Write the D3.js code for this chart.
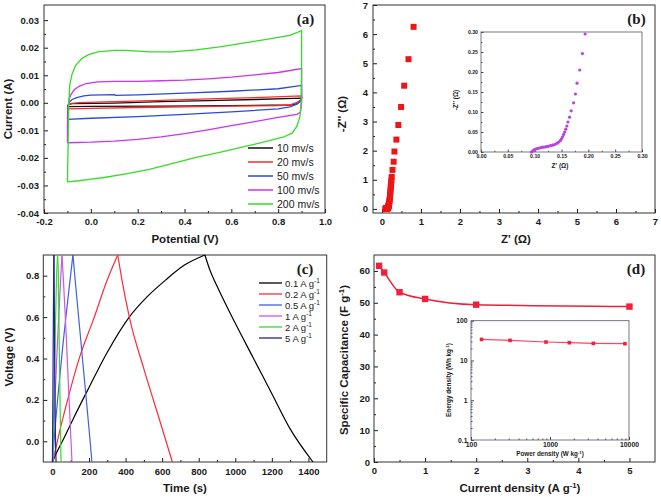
<!DOCTYPE html>
<html><head><meta charset="utf-8">
<script src="https://cdn.jsdelivr.net/npm/d3@7"></script>
<style>body{margin:0;background:#fff}svg{display:block}</style>
</head><body>
<svg id="c" width="661" height="497"></svg>
<script>
// ---------------- DATA ----------------
// (a) CV loops: [potential V, current A]
const cvLabels = ["10 mv/s","20 mv/s","50 mv/s","100 mv/s","200 mv/s"];
const cv10 = [[-0.1,-0.0014],[-0.095,-0.0006],[-0.08,-0.0003],[0.1,-0.0001],[0.3,0.0004],[0.5,0.0008],[0.7,0.0012],[0.9,0.0017],
  [0.895,0.0006],[0.88,-0.0004],[0.85,-0.0008],[0.6,-0.001],[0.3,-0.0012],[0.0,-0.0013],[-0.1,-0.0014]];
const cv20 = [[-0.1,-0.0022],[-0.095,-0.0008],[-0.08,-0.0002],[-0.05,0.0001],[0.1,0.0004],[0.3,0.0009],[0.5,0.0014],[0.7,0.0019],[0.9,0.0025],
  [0.9,0.0012],[0.88,0.0002],[0.85,-0.0008],[0.8,-0.001],[0.6,-0.0012],[0.4,-0.0015],[0.2,-0.0017],[0.0,-0.002],[-0.1,-0.0022]];
const cv50 = [[-0.1,-0.006],[-0.098,-0.002],[-0.094,0.0],[-0.08,0.0012],[-0.06,0.0019],[-0.03,0.0025],[0.0,0.0028],[0.1,0.003],[0.105,0.0027],[0.2,0.0029],[0.4,0.0035],[0.6,0.0042],[0.8,0.0051],[0.9,0.0063],
  [0.9,0.002],[0.893,0.0005],[0.88,-0.0005],[0.85,-0.0015],[0.8,-0.0022],[0.6,-0.0033],[0.4,-0.0042],[0.2,-0.005],[0.0,-0.0056],[-0.1,-0.006]];
const cv100 = [[-0.1,-0.0145],[-0.1,-0.008],[-0.097,-0.002],[-0.094,0.001],[-0.085,0.003],[-0.07,0.0048],[-0.05,0.006],[-0.02,0.007],[0.03,0.0076],[0.1,0.0078],[0.2,0.0078],[0.3,0.008],[0.4,0.0082],[0.5,0.0087],[0.6,0.0093],[0.7,0.0101],[0.8,0.011],[0.9,0.0124],
  [0.9,0.0],[0.895,-0.0035],[0.88,-0.0042],[0.8,-0.0053],[0.7,-0.0068],[0.6,-0.0083],[0.5,-0.0098],[0.4,-0.0112],[0.3,-0.0124],[0.2,-0.0133],[0.1,-0.0139],[0.0,-0.0143],[-0.1,-0.0145]];
const cv200 = [[-0.1,-0.0287],[-0.098,-0.02],[-0.096,-0.01],[-0.094,0.0],[-0.09,0.0065],[-0.08,0.0105],[-0.065,0.0135],[-0.04,0.016],[-0.01,0.0175],[0.03,0.0185],[0.1,0.019],[0.15,0.019],[0.25,0.0185],[0.35,0.0185],[0.45,0.0192],[0.55,0.0203],[0.65,0.0217],[0.75,0.023],[0.85,0.0245],[0.9,0.0262],
  [0.9,0.024],[0.9,0.01],[0.898,0.0],[0.893,-0.005],[0.88,-0.0085],[0.86,-0.011],[0.82,-0.0125],[0.75,-0.014],[0.65,-0.016],[0.55,-0.018],[0.45,-0.0198],[0.35,-0.022],[0.25,-0.0242],[0.15,-0.0258],[0.05,-0.0272],[0.0,-0.0277],[-0.05,-0.0283],[-0.1,-0.0287]];

// (b) EIS: [Z', -Z'']
const eisInset = [[0.094,0.0],[0.096,0.002],[0.098,0.004],[0.1,0.006],[0.103,0.008],[0.106,0.009],[0.109,0.010],[0.112,0.011],[0.115,0.012],[0.118,0.0125],[0.121,0.013],[0.124,0.014],[0.127,0.015],[0.130,0.016],[0.133,0.017],[0.136,0.018],[0.139,0.020],[0.142,0.022],[0.145,0.025],[0.148,0.029],[0.150,0.033],[0.152,0.038],[0.154,0.044],[0.156,0.050],[0.158,0.057],[0.160,0.065],[0.162,0.075],[0.165,0.087],[0.168,0.103],[0.1725,0.123],[0.176,0.145],[0.179,0.172],[0.184,0.205],[0.189,0.246],[0.194,0.295]];
const eisHigh = [[0.2,0.35],[0.205,0.42],[0.21,0.5],[0.215,0.58],[0.22,0.66],[0.225,0.74],[0.23,0.82],[0.235,0.9],[0.24,0.98],[0.25,1.1],[0.27,1.34],[0.3,1.62],[0.32,1.97],[0.37,2.38],[0.42,2.88],[0.49,3.5],[0.57,4.23],[0.68,5.14],[0.81,6.25]];

// (c) GCD: time (s), voltage (V)
const gcdLabels = ["0.1","0.2","0.5","1","2","5"];
const gcd01T = [0,20,60,120,200,300,420,520,620,720,834,860,900,1000,1100,1200,1300,1425];
const gcd01V = [-0.1,-0.06,0.01,0.12,0.26,0.43,0.6,0.7,0.78,0.85,0.9,0.83,0.75,0.57,0.4,0.23,0.06,-0.1];
const gcd02T = [2,40,80,150,225,300,357,380,423,500,580,656];
const gcd02V = [-0.1,0.05,0.19,0.41,0.59,0.78,0.9,0.78,0.59,0.35,0.12,-0.1];
const gcd05T = [0,15,30,60,90,112,120,140,160,180,200,216];
const gcd05V = [-0.1,0.07,0.22,0.49,0.73,0.9,0.82,0.63,0.44,0.25,0.06,-0.1];
const gcd1T = [0,10,25,40,52,60,75,90,107];
const gcd1V = [-0.1,0.12,0.43,0.7,0.9,0.78,0.52,0.22,-0.1];
const gcd2T = [2,8,15,22,28,32,36,41,47];
const gcd2V = [-0.1,0.2,0.5,0.78,0.9,0.82,0.55,0.22,-0.1];
const gcd5T = [0,3,6,8,10,13,16,20];
const gcd5V = [-0.1,0.3,0.7,0.9,0.7,0.3,0.05,-0.1];

// (d) rate capability and Ragone inset
const rateCurrent = [0.1,0.2,0.5,1,2,5];
const rateCap = [61.6,59.5,53.3,51.2,49.4,48.8];
const ragPower = [136,312,889,1757,3536,8893];
const ragEnergy = [33.9,32,29.1,28,26.9,26.4];

// ---------------- DRAWING ----------------
const FONT = '"Liberation Sans", Arial, sans-serif';
const SERIF = '"Liberation Serif", "Times New Roman", serif';
const svg = d3.select("#c");
const INK = "#1a1a1a";

function rich(x, y, parts, fs, opt) {
  opt = opt || {};
  const t = svg.append("text").attr("x", x).attr("y", y)
    .attr("text-anchor", opt.anchor || "middle").attr("font-size", fs)
    .attr("font-weight", opt.weight || "bold").attr("font-family", opt.family || FONT).attr("fill", INK);
  if (opt.rot) t.attr("transform", `rotate(${opt.rot},${x},${y})`);
  let raised = false;
  parts.forEach(p => {
    if (Array.isArray(p)) { t.append("tspan").attr("dy", -fs * 0.38).attr("font-size", fs * 0.68).text(p[0]); raised = true; }
    else { const s = t.append("tspan").text(p); if (raised) { s.attr("dy", fs * 0.38); raised = false; } }
  });
  return t;
}

function frame(o) {
  const g = svg.append("g");
  const [xa, xb] = o.x.range(), [ya, yb] = o.y.range();
  const tl = o.tl || 4;
  g.append("g").attr("transform", `translate(0,${ya})`)
    .call(d3.axisBottom(o.x).tickValues(o.xMinor).tickFormat("").tickSizeInner(-tl / 2).tickSizeOuter(0));
  g.append("g").attr("transform", `translate(0,${ya})`)
    .call(d3.axisBottom(o.x).tickValues(o.xMajor).tickFormat(o.xFmt).tickSizeInner(-tl).tickSizeOuter(0).tickPadding(o.xPad));
  g.append("g").attr("transform", `translate(${xa},0)`)
    .call(d3.axisLeft(o.y).tickValues(o.yMinor).tickFormat("").tickSizeInner(-tl / 2).tickSizeOuter(0));
  g.append("g").attr("transform", `translate(${xa},0)`)
    .call(d3.axisLeft(o.y).tickValues(o.yMajor).tickFormat(o.yFmt).tickSizeInner(-tl).tickSizeOuter(0).tickPadding(o.yPad));
  g.selectAll(".domain").remove();
  g.selectAll("line").attr("stroke", INK).attr("stroke-width", o.sw || 1);
  g.selectAll("text").attr("font-family", FONT).attr("font-weight", "bold").attr("font-size", o.fs).attr("fill", INK);
  g.append("rect").attr("x", xa).attr("y", yb).attr("width", xb - xa).attr("height", ya - yb)
    .attr("fill", "none").attr("stroke", o.border || "#333").attr("stroke-width", o.sw || 1);
  return g;
}

// ----- Panel (a) -----
const xA = d3.scaleLinear().domain([-0.2, 1.0]).range([44, 325]);
const yA = d3.scaleLinear().domain([-0.04, 0.0355]).range([213, 5]);
frame({x: xA, y: yA, xMajor: [-0.2,0,0.2,0.4,0.6,0.8,1.0], xMinor: [-0.1,0.1,0.3,0.5,0.7,0.9],
  yMajor: [-0.04,-0.03,-0.02,-0.01,0,0.01,0.02,0.03], yMinor: [-0.035,-0.025,-0.015,-0.005,0.005,0.015,0.025],
  xFmt: d => d.toFixed(1), yFmt: d => d.toFixed(2), fs: 9.5, xPad: 5, yPad: 5});
const cvSeries = [cv10, cv20, cv50, cv100, cv200];
const cvColors = ["#111111", "#ff2a2a", "#2a4bd7", "#cc33ee", "#33dd22"];
const lineA = d3.line().x(d => xA(d[0])).y(d => yA(d[1]));
cvSeries.forEach((s, i) => {
  svg.append("path").attr("d", lineA(s)).attr("fill", "none").attr("stroke", cvColors[i]).attr("stroke-width", 1.3);
});
cvLabels.forEach((l, i) => {
  const y = 148 + i * 14;
  svg.append("line").attr("x1", 248).attr("x2", 273).attr("y1", y).attr("y2", y).attr("stroke", cvColors[i]).attr("stroke-width", 1.5);
  rich(277, y + 3.8, [l], 10.5, {anchor: "start", weight: "normal"});
});
rich(12, 109, ["Current (A)"], 11.5, {rot: -90});
rich(185, 243, ["Potential (V)"], 11.5);
rich(305.5, 24, ["(a)"], 15, {family: SERIF});

// ----- Panel (b) -----
const xB = d3.scaleLinear().domain([-0.23, 7]).range([373, 655]);
const yB = d3.scaleLinear().domain([-0.14, 7]).range([213, 5]);
frame({x: xB, y: yB, xMajor: d3.range(0, 8), xMinor: d3.range(0.5, 7, 1),
  yMajor: d3.range(0, 8), yMinor: d3.range(0.5, 7, 1),
  xFmt: d => d, yFmt: d => d, fs: 9.5, xPad: 5, yPad: 5});
const eisMain = eisInset.concat(eisHigh);
svg.append("g").selectAll("rect").data(eisMain).join("rect")
  .attr("x", d => xB(d[0]) - 3).attr("y", d => yB(d[1]) - 3).attr("width", 6).attr("height", 6).attr("fill", "#ee1515");
rich(346, 114, ["-Z'' (Ω)"], 11.5, {rot: -90});
rich(516, 243, ["Z' (Ω)"], 11.5);
rich(636.5, 24, ["(b)"], 15, {family: SERIF});

// inset (b)
const xBi = d3.scaleLinear().domain([0, 0.3]).range([481, 642]);
const yBi = d3.scaleLinear().domain([0, 0.3]).range([152, 32]);
svg.append("rect").attr("x", 481).attr("y", 32).attr("width", 161).attr("height", 120).attr("fill", "#fff");
frame({x: xBi, y: yBi, xMajor: d3.range(0, 0.31, 0.05), xMinor: d3.range(0.025, 0.3, 0.05),
  yMajor: d3.range(0, 0.31, 0.05), yMinor: d3.range(0.025, 0.3, 0.05),
  xFmt: d => d.toFixed(2), yFmt: d => d.toFixed(2), fs: 5.2, xPad: 2.5, yPad: 3, tl: 2.5, sw: 0.8, border: "#556"});
svg.append("g").selectAll("circle").data(eisInset).join("circle")
  .attr("cx", d => xBi(d[0])).attr("cy", d => yBi(d[1])).attr("r", 1.6).attr("fill", "#b444e4");
rich(458, 100, ["-Z'' (Ω)"], 6.5, {rot: -90});
rich(560, 168, ["Z' (Ω)"], 6.5);

// ----- Panel (c) -----
const xC = d3.scaleLinear().domain([-50, 1500]).range([43.3, 326.7]);
const yC = d3.scaleLinear().domain([-0.1, 0.9]).range([462, 255]);
frame({x: xC, y: yC, xMajor: d3.range(0, 1401, 200), xMinor: d3.range(100, 1400, 200),
  yMajor: [0, 0.2, 0.4, 0.6, 0.8], yMinor: [0.1, 0.3, 0.5, 0.7],
  xFmt: d => d, yFmt: d => d.toFixed(1), fs: 9.5, xPad: 6, yPad: 4});
const gcdT = [gcd01T, gcd02T, gcd05T, gcd1T, gcd2T, gcd5T];
const gcdV = [gcd01V, gcd02V, gcd05V, gcd1V, gcd2V, gcd5V];
const gcdColors = ["#000000", "#ff2a3a", "#4060e0", "#cc55ee", "#33dd22", "#2020a0"];
const lineC = d3.line().x(d => xC(d[0])).y(d => yC(d[1])).curve(d3.curveMonotoneX);
gcdT.forEach((ts, i) => {
  const pts = ts.map((t, j) => [t, gcdV[i][j]]);
  const pk = d3.maxIndex(pts, d => d[1]);
  [pts.slice(0, pk + 1), pts.slice(pk)].forEach(seg => {
    svg.append("path").attr("d", lineC(seg)).attr("fill", "none").attr("stroke", gcdColors[i]).attr("stroke-width", 1.2);
  });
});
gcdLabels.forEach((l, i) => {
  const y = 283 + i * 11;
  svg.append("line").attr("x1", 259).attr("x2", 282).attr("y1", y).attr("y2", y).attr("stroke", gcdColors[i]).attr("stroke-width", 1.3);
  rich(285, y + 3.5, [l + " A g", ["-1"]], 9.5, {anchor: "start", weight: "normal"});
});
rich(13, 357, ["Voltage (V)"], 11.5, {rot: -90});
rich(185, 492, ["Time (s)"], 11.5);
rich(305, 274, ["(c)"], 15, {family: SERIF});

// ----- Panel (d) -----
const xD = d3.scaleLinear().domain([0, 5.5]).range([374, 655]);
const yD = d3.scaleLinear().domain([0, 65]).range([462, 255]);
frame({x: xD, y: yD, xMajor: d3.range(0, 6), xMinor: [0.5, 1.5, 2.5, 3.5, 4.5],
  yMajor: d3.range(0, 61, 10), yMinor: d3.range(5, 61, 10),
  xFmt: d => d, yFmt: d => d, fs: 9.5, xPad: 5, yPad: 4});
const rateData = rateCurrent.map((c, i) => [c, rateCap[i]]);
svg.append("path").attr("d", d3.line().x(d => xD(d[0])).y(d => yD(d[1])).curve(d3.curveMonotoneX)(rateData))
  .attr("fill", "none").attr("stroke", "#f0203c").attr("stroke-width", 1.5);
svg.append("g").selectAll("rect").data(rateData).join("rect")
  .attr("x", d => xD(d[0]) - 3.2).attr("y", d => yD(d[1]) - 3.2).attr("width", 6.4).attr("height", 6.4).attr("fill", "#f0203c");
rich(348, 360, ["Specific Capacitance (F g", ["-1"], ")"], 11.5, {rot: -90});
rich(520, 492, ["Current density (A g", ["-1"], ")"], 11.5);
rich(636, 274, ["(d)"], 15, {family: SERIF});

// inset (d)
const xDi = d3.scaleLog().domain([100, 10000]).range([471, 629]);
const yDi = d3.scaleLog().domain([0.1, 100]).range([440, 320.7]);
const minorLog = (lo, hi) => { const r = []; for (let d = lo; d < hi; d *= 10) for (let k = 2; k <= 9; k++) r.push(d * k); return r; };
frame({x: xDi, y: yDi, xMajor: [100, 1000, 10000], xMinor: minorLog(100, 10000),
  yMajor: [0.1, 1, 10, 100], yMinor: minorLog(0.1, 100),
  xFmt: d => d, yFmt: d => d, fs: 6.8, xPad: 2, yPad: 3.5, tl: 3, sw: 0.8, border: "#556"});
const ragData = ragPower.map((p, i) => [p, ragEnergy[i]]);
svg.append("path").attr("d", d3.line().x(d => xDi(d[0])).y(d => yDi(d[1]))(ragData))
  .attr("fill", "none").attr("stroke", "#ff4466").attr("stroke-width", 1.2);
svg.append("g").selectAll("rect").data(ragData).join("rect")
  .attr("x", d => xDi(d[0]) - 1.8).attr("y", d => yDi(d[1]) - 1.8).attr("width", 3.6).attr("height", 3.6).attr("fill", "#f0203c");
rich(451, 380, ["Energy density (Wh kg", ["-1"], ")"], 6.3, {rot: -90});
rich(550, 456, ["Power density (W kg", ["-1"], ")"], 6.3);
</script>
</body></html>
